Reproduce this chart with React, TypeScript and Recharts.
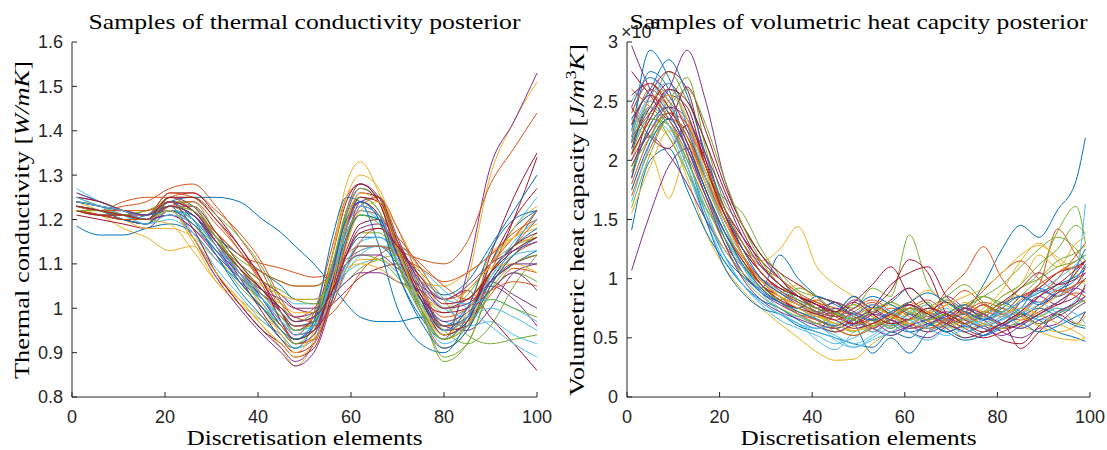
import React from 'react';
import { LineChart, Line, XAxis, YAxis } from 'recharts';

// MATLAB default colour order
const COLORS = ['#0072BD', '#D95319', '#EDB120', '#7E2F8E', '#77AC30', '#4DBEEE', '#A2142F'];

// ---------- Left panel: thermal conductivity samples [W/mK] ----------
const kElements = [1, 6, 11, 16, 21, 26, 31, 36, 41, 45, 48, 52, 56, 59, 62, 66, 70, 75, 80, 85, 90, 95, 100];
const kSamples: number[][] = [
  [1.24, 1.23, 1.21, 1.20, 1.23, 1.21, 1.14, 1.08, 1.02, 0.96, 0.93, 0.97, 1.10, 1.20, 1.24, 1.20, 1.08, 0.98, 0.93, 0.98, 1.10, 1.18, 1.22],
  [1.23, 1.22, 1.23, 1.24, 1.27, 1.28, 1.23, 1.16, 1.08, 0.99, 0.94, 0.99, 1.14, 1.25, 1.28, 1.24, 1.12, 0.99, 0.91, 0.95, 1.06, 1.12, 1.15],
  [1.22, 1.21, 1.18, 1.16, 1.13, 1.14, 1.07, 1.02, 0.96, 0.91, 0.87, 0.93, 1.12, 1.28, 1.33, 1.26, 1.14, 1.02, 0.95, 1.06, 1.30, 1.42, 1.51],
  [1.24, 1.23, 1.21, 1.20, 1.22, 1.16, 1.08, 1.01, 0.95, 0.91, 0.88, 0.92, 1.08, 1.22, 1.28, 1.25, 1.13, 1.00, 0.93, 1.08, 1.32, 1.42, 1.53],
  [1.25, 1.23, 1.22, 1.21, 1.24, 1.24, 1.17, 1.10, 1.04, 0.99, 0.95, 0.97, 1.05, 1.15, 1.21, 1.20, 1.12, 1.00, 0.89, 0.92, 1.05, 1.12, 1.17],
  [1.26, 1.24, 1.22, 1.20, 1.21, 1.19, 1.14, 1.09, 1.05, 1.03, 1.01, 1.01, 1.04, 1.08, 1.10, 1.11, 1.08, 1.02, 0.97, 0.96, 0.97, 0.94, 0.92],
  [1.21, 1.20, 1.19, 1.18, 1.22, 1.21, 1.15, 1.10, 1.06, 1.03, 1.00, 0.99, 1.01, 1.04, 1.07, 1.09, 1.10, 1.06, 1.02, 1.04, 0.98, 0.92, 0.86],
  [1.22, 1.21, 1.20, 1.21, 1.24, 1.25, 1.25, 1.24, 1.20, 1.17, 1.14, 1.10, 1.05, 1.01, 0.98, 0.97, 0.97, 0.98, 0.96, 1.00, 1.06, 1.10, 1.13],
  [1.23, 1.22, 1.24, 1.25, 1.25, 1.22, 1.17, 1.12, 1.10, 1.09, 1.08, 1.07, 1.08, 1.11, 1.13, 1.14, 1.13, 1.11, 1.10, 1.15, 1.28, 1.36, 1.44],
  [1.24, 1.22, 1.20, 1.19, 1.22, 1.15, 1.06, 1.01, 0.97, 0.94, 0.91, 0.94, 1.08, 1.20, 1.25, 1.22, 1.10, 1.00, 0.94, 1.00, 1.12, 1.16, 1.18],
  [1.26, 1.24, 1.22, 1.21, 1.23, 1.16, 1.07, 1.00, 0.94, 0.90, 0.87, 0.90, 1.02, 1.15, 1.24, 1.25, 1.16, 1.04, 0.96, 0.98, 1.05, 1.02, 0.96],
  [1.23, 1.22, 1.21, 1.22, 1.23, 1.20, 1.15, 1.10, 1.06, 1.04, 1.02, 1.01, 1.03, 1.06, 1.09, 1.11, 1.12, 1.08, 1.02, 0.94, 0.92, 0.93, 0.94],
  [1.23, 1.22, 1.21, 1.19, 1.22, 1.21, 1.14, 1.07, 1.01, 0.96, 0.93, 0.96, 1.08, 1.19, 1.25, 1.22, 1.10, 0.99, 0.92, 0.96, 1.10, 1.18, 1.25],
  [1.22, 1.21, 1.20, 1.19, 1.23, 1.23, 1.17, 1.10, 1.04, 0.99, 0.96, 0.97, 1.04, 1.13, 1.19, 1.20, 1.15, 1.05, 0.95, 0.96, 1.08, 1.20, 1.34],
  [1.185, 1.165, 1.165, 1.18, 1.19, 1.17, 1.11, 1.06, 1.02, 0.98, 0.96, 0.97, 1.03, 1.10, 1.14, 1.14, 1.10, 1.03, 0.96, 0.98, 1.06, 1.14, 1.22],
  [1.22, 1.21, 1.21, 1.20, 1.25, 1.26, 1.22, 1.17, 1.10, 1.02, 0.98, 1.00, 1.08, 1.17, 1.22, 1.21, 1.15, 1.04, 0.98, 1.00, 1.08, 1.14, 1.20],
  [1.23, 1.22, 1.20, 1.18, 1.18, 1.16, 1.11, 1.07, 1.03, 1.01, 0.99, 0.99, 1.03, 1.08, 1.11, 1.11, 1.09, 1.06, 1.05, 1.08, 1.12, 1.16, 1.22],
  [1.25, 1.24, 1.22, 1.21, 1.25, 1.23, 1.16, 1.09, 1.02, 0.96, 0.93, 0.95, 1.08, 1.21, 1.27, 1.24, 1.13, 1.02, 0.96, 0.95, 1.00, 1.08, 1.10],
  [1.24, 1.23, 1.21, 1.20, 1.22, 1.19, 1.12, 1.05, 1.00, 0.96, 0.93, 0.95, 1.03, 1.12, 1.17, 1.17, 1.12, 1.04, 0.99, 1.03, 1.10, 1.14, 1.16],
  [1.22, 1.21, 1.20, 1.19, 1.20, 1.17, 1.11, 1.06, 1.00, 0.97, 0.95, 0.96, 1.01, 1.08, 1.12, 1.14, 1.14, 1.09, 1.04, 1.00, 0.96, 0.92, 0.89],
  [1.23, 1.22, 1.21, 1.21, 1.26, 1.26, 1.21, 1.14, 1.06, 0.99, 0.95, 0.98, 1.12, 1.24, 1.28, 1.24, 1.12, 1.02, 0.94, 0.97, 1.12, 1.25, 1.35],
  [1.24, 1.23, 1.22, 1.21, 1.23, 1.21, 1.16, 1.12, 1.08, 1.05, 1.02, 1.02, 1.06, 1.12, 1.16, 1.16, 1.13, 1.07, 1.03, 1.06, 1.14, 1.22, 1.30],
  [1.22, 1.21, 1.20, 1.19, 1.23, 1.24, 1.19, 1.13, 1.06, 1.01, 0.98, 0.97, 0.99, 1.03, 1.08, 1.12, 1.14, 1.10, 1.05, 1.02, 1.04, 1.06, 1.05],
  [1.24, 1.23, 1.21, 1.20, 1.19, 1.13, 1.06, 1.02, 0.98, 0.95, 0.92, 0.93, 1.02, 1.14, 1.22, 1.24, 1.18, 1.08, 1.00, 1.02, 1.08, 1.14, 1.16],
  [1.23, 1.22, 1.21, 1.20, 1.21, 1.18, 1.13, 1.08, 1.04, 1.02, 1.00, 1.00, 1.03, 1.06, 1.08, 1.08, 1.06, 1.04, 1.00, 1.02, 1.06, 1.03, 1.00],
  [1.22, 1.21, 1.21, 1.22, 1.24, 1.22, 1.16, 1.11, 1.08, 1.06, 1.05, 1.05, 1.07, 1.10, 1.12, 1.11, 1.07, 1.01, 0.95, 0.92, 0.96, 1.05, 1.12],
  [1.27, 1.24, 1.22, 1.20, 1.22, 1.17, 1.09, 1.03, 0.97, 0.94, 0.91, 0.93, 1.04, 1.16, 1.22, 1.20, 1.10, 1.00, 0.94, 0.97, 1.07, 1.12, 1.13],
  [1.22, 1.21, 1.20, 1.19, 1.24, 1.22, 1.15, 1.07, 0.99, 0.93, 0.90, 0.92, 1.05, 1.18, 1.24, 1.21, 1.10, 1.02, 0.99, 1.00, 1.06, 1.10, 1.12],
  [1.23, 1.22, 1.20, 1.19, 1.24, 1.20, 1.12, 1.04, 0.98, 0.93, 0.91, 0.97, 1.16, 1.25, 1.24, 1.14, 1.00, 0.92, 0.90, 0.97, 1.08, 1.14, 1.18],
  [1.24, 1.23, 1.22, 1.21, 1.26, 1.25, 1.20, 1.13, 1.05, 0.97, 0.92, 0.93, 1.02, 1.15, 1.23, 1.25, 1.18, 1.06, 0.96, 0.97, 1.03, 1.09, 1.08],
  [1.22, 1.22, 1.21, 1.20, 1.23, 1.22, 1.16, 1.08, 1.00, 0.94, 0.90, 0.95, 1.12, 1.25, 1.30, 1.27, 1.15, 1.01, 0.93, 0.96, 1.08, 1.18, 1.23],
  [1.24, 1.23, 1.22, 1.20, 1.21, 1.18, 1.12, 1.07, 1.03, 1.00, 0.98, 0.99, 1.04, 1.10, 1.12, 1.12, 1.09, 1.05, 1.02, 1.05, 1.10, 1.13, 1.15],
  [1.23, 1.22, 1.22, 1.21, 1.25, 1.25, 1.21, 1.16, 1.09, 1.01, 0.97, 0.99, 1.10, 1.21, 1.25, 1.22, 1.10, 0.99, 0.93, 0.97, 1.04, 1.08, 1.06],
  [1.24, 1.23, 1.21, 1.19, 1.21, 1.19, 1.13, 1.07, 1.02, 0.98, 0.95, 0.96, 1.02, 1.10, 1.15, 1.16, 1.12, 1.05, 1.00, 0.98, 1.00, 0.98, 0.95],
  [1.25, 1.24, 1.22, 1.20, 1.24, 1.18, 1.08, 1.01, 0.95, 0.92, 0.89, 0.91, 1.04, 1.18, 1.25, 1.24, 1.14, 1.02, 0.94, 0.97, 1.10, 1.20, 1.27],
  [1.23, 1.22, 1.21, 1.20, 1.22, 1.20, 1.14, 1.09, 1.04, 1.00, 0.97, 0.98, 1.06, 1.16, 1.21, 1.20, 1.12, 1.02, 0.95, 1.00, 1.13, 1.20, 1.22],
  [1.22, 1.21, 1.20, 1.20, 1.24, 1.22, 1.16, 1.09, 1.03, 0.99, 0.96, 0.96, 1.01, 1.09, 1.15, 1.18, 1.16, 1.09, 1.02, 1.04, 1.10, 1.16, 1.22],
  [1.24, 1.23, 1.22, 1.21, 1.22, 1.19, 1.14, 1.09, 1.05, 1.03, 1.02, 1.02, 1.05, 1.09, 1.10, 1.09, 1.06, 1.03, 1.00, 1.04, 1.09, 1.10, 1.08],
  [1.23, 1.22, 1.21, 1.20, 1.23, 1.21, 1.14, 1.06, 1.00, 0.95, 0.92, 0.94, 1.06, 1.18, 1.23, 1.21, 1.12, 1.03, 0.97, 0.99, 1.04, 1.08, 1.04],
  [1.24, 1.23, 1.21, 1.20, 1.24, 1.23, 1.16, 1.08, 1.01, 0.95, 0.92, 0.96, 1.10, 1.22, 1.27, 1.25, 1.14, 1.00, 0.88, 0.92, 1.04, 1.10, 1.12],
  [1.25, 1.23, 1.21, 1.20, 1.22, 1.20, 1.14, 1.08, 1.03, 0.99, 0.97, 0.98, 1.03, 1.09, 1.13, 1.14, 1.11, 1.06, 1.02, 1.01, 1.02, 1.00, 0.97],
  [1.22, 1.21, 1.21, 1.20, 1.25, 1.25, 1.20, 1.14, 1.06, 0.97, 0.93, 0.95, 1.06, 1.19, 1.26, 1.25, 1.15, 1.03, 0.95, 0.98, 1.08, 1.14, 1.17],
  [1.24, 1.23, 1.22, 1.21, 1.22, 1.19, 1.13, 1.06, 1.00, 0.95, 0.93, 0.96, 1.09, 1.20, 1.24, 1.20, 1.08, 0.97, 0.91, 0.95, 1.05, 1.12, 1.16],
  [1.23, 1.22, 1.22, 1.22, 1.24, 1.22, 1.17, 1.12, 1.08, 1.06, 1.05, 1.05, 1.08, 1.12, 1.14, 1.14, 1.12, 1.09, 1.06, 1.08, 1.12, 1.17, 1.20],
  [1.23, 1.22, 1.21, 1.20, 1.22, 1.16, 1.08, 1.02, 0.96, 0.92, 0.89, 0.92, 1.05, 1.19, 1.26, 1.24, 1.13, 1.01, 0.94, 0.99, 1.10, 1.16, 1.19],
  [1.24, 1.23, 1.22, 1.21, 1.24, 1.22, 1.15, 1.08, 1.02, 0.97, 0.94, 0.95, 1.02, 1.12, 1.18, 1.19, 1.14, 1.06, 1.00, 1.01, 1.06, 1.10, 1.10],
  [1.22, 1.22, 1.21, 1.20, 1.23, 1.22, 1.16, 1.09, 1.03, 0.98, 0.95, 0.97, 1.07, 1.17, 1.21, 1.19, 1.10, 1.00, 0.93, 0.96, 1.02, 1.00, 0.98],
  [1.24, 1.23, 1.22, 1.20, 1.23, 1.21, 1.15, 1.08, 1.02, 0.97, 0.94, 0.96, 1.07, 1.18, 1.23, 1.21, 1.11, 1.01, 0.95, 0.98, 1.07, 1.15, 1.20],
  [1.23, 1.22, 1.21, 1.20, 1.23, 1.21, 1.15, 1.09, 1.04, 1.00, 0.97, 0.98, 1.04, 1.12, 1.17, 1.18, 1.14, 1.07, 1.01, 1.02, 1.08, 1.13, 1.16],
];

// ---------- Right panel: volumetric heat capacity samples [x10^6 J/m^3K] ----------
const cElements = [1, 5, 9, 13, 17, 21, 25, 29, 33, 37, 41, 45, 49, 53, 57, 61, 65, 69, 73, 77, 81, 85, 89, 93, 97, 99];
const cSamples: number[][] = [
  [2.15, 2.93, 2.70, 2.30, 1.85, 1.45, 1.15, 0.95, 0.85, 0.78, 0.72, 0.80, 0.65, 0.60, 0.72, 0.78, 0.65, 0.82, 0.75, 0.95, 1.25, 1.45, 1.35, 1.58, 1.83, 2.19],
  [2.20, 2.60, 2.45, 2.20, 1.80, 1.45, 1.15, 1.00, 0.92, 0.85, 0.80, 0.72, 0.85, 0.70, 0.62, 0.78, 0.70, 0.90, 1.05, 1.27, 1.00, 0.85, 0.95, 1.42, 1.20, 1.10],
  [1.75, 2.05, 1.68, 2.05, 1.85, 1.55, 1.30, 1.15, 1.25, 1.44, 1.10, 0.95, 0.85, 0.75, 0.80, 0.70, 0.78, 0.66, 0.80, 0.72, 0.85, 0.95, 1.20, 1.10, 1.30, 1.35],
  [2.97, 2.60, 2.35, 2.10, 1.70, 1.35, 1.05, 0.90, 0.80, 0.75, 0.68, 0.72, 0.60, 0.66, 0.58, 0.70, 0.64, 0.55, 0.62, 0.70, 0.60, 0.72, 0.85, 0.78, 0.95, 1.05],
  [2.30, 2.45, 2.75, 2.50, 2.15, 1.65, 1.45, 1.20, 1.05, 0.90, 0.85, 0.80, 0.75, 0.92, 0.85, 1.37, 0.95, 0.80, 0.72, 0.85, 0.78, 0.92, 1.05, 1.40, 1.61, 1.30],
  [2.10, 2.35, 2.25, 1.90, 1.50, 1.15, 0.95, 0.80, 0.70, 0.62, 0.48, 0.40, 0.55, 0.62, 0.70, 0.58, 0.66, 0.75, 0.60, 0.68, 0.75, 0.70, 0.85, 0.92, 1.05, 1.63],
  [1.85, 2.40, 2.55, 2.45, 1.95, 1.55, 1.20, 0.95, 0.85, 0.70, 0.62, 0.58, 0.65, 0.75, 0.90, 1.16, 1.05, 0.70, 0.58, 0.52, 0.62, 0.41, 0.55, 0.72, 0.80, 0.95],
  [2.25, 2.75, 2.60, 2.05, 1.55, 1.20, 1.02, 0.92, 1.20, 1.00, 0.85, 0.70, 0.62, 0.37, 0.50, 0.37, 0.55, 0.62, 0.75, 0.68, 0.80, 0.72, 0.65, 0.55, 0.50, 0.47],
  [2.60, 2.45, 2.30, 2.00, 1.65, 1.30, 1.10, 0.95, 0.80, 0.72, 0.65, 0.60, 0.70, 0.55, 0.65, 0.75, 0.82, 0.70, 0.65, 0.72, 0.68, 0.80, 0.92, 1.05, 1.15, 1.20],
  [2.00, 2.30, 2.20, 1.85, 1.40, 1.10, 0.90, 0.75, 0.62, 0.50, 0.38, 0.31, 0.32, 0.45, 0.55, 0.62, 0.55, 0.65, 0.58, 0.62, 0.70, 0.60, 0.55, 0.50, 0.48, 0.50],
  [1.07, 1.55, 1.95, 2.10, 1.85, 1.55, 1.30, 1.05, 0.92, 0.85, 0.78, 0.70, 0.82, 0.75, 0.68, 0.78, 0.70, 0.85, 0.75, 0.68, 0.62, 0.80, 0.90, 0.85, 0.92, 0.88],
  [1.60, 2.05, 2.35, 2.20, 1.90, 1.60, 1.35, 1.15, 1.00, 0.88, 0.70, 0.62, 0.55, 0.65, 0.58, 0.72, 0.80, 0.62, 0.75, 0.85, 0.95, 1.10, 1.25, 1.35, 1.25, 1.15],
  [2.40, 2.65, 2.40, 2.10, 1.70, 1.35, 1.10, 0.90, 0.75, 0.68, 0.72, 0.58, 0.62, 0.55, 0.68, 0.75, 0.62, 0.70, 0.66, 0.58, 0.62, 0.70, 0.78, 0.85, 0.95, 1.00],
  [2.10, 2.55, 2.75, 2.60, 2.00, 1.55, 1.25, 1.05, 0.90, 0.82, 0.75, 0.68, 0.80, 0.95, 1.10, 0.85, 0.70, 0.65, 0.55, 0.60, 0.48, 0.45, 0.60, 0.70, 0.62, 0.72],
  [1.41, 2.00, 2.10, 1.75, 1.40, 1.15, 0.95, 0.82, 0.75, 0.65, 0.58, 0.70, 0.85, 0.75, 0.80, 0.92, 0.78, 0.65, 0.70, 0.60, 0.66, 0.75, 0.92, 0.85, 1.10, 1.25],
  [1.95, 2.25, 2.40, 2.30, 1.95, 1.55, 1.20, 0.98, 0.85, 0.78, 0.70, 0.65, 0.72, 0.80, 0.68, 0.62, 0.70, 0.78, 0.90, 0.78, 0.70, 0.65, 0.72, 0.80, 0.88, 0.85],
  [2.25, 2.50, 2.60, 2.35, 1.80, 1.50, 1.20, 1.00, 0.88, 0.95, 0.80, 0.70, 0.78, 0.68, 0.60, 0.72, 0.65, 0.58, 0.66, 0.75, 0.90, 1.15, 1.30, 1.15, 1.00, 0.95],
  [2.00, 2.20, 2.05, 1.80, 1.50, 1.25, 1.05, 0.88, 0.78, 0.70, 0.62, 0.58, 0.66, 0.72, 0.65, 0.60, 0.55, 0.62, 0.75, 0.65, 0.55, 0.50, 0.58, 0.62, 0.75, 0.80],
  [2.35, 2.20, 2.40, 2.20, 1.85, 1.68, 1.55, 1.25, 1.02, 0.80, 0.72, 0.55, 0.62, 0.75, 0.70, 0.60, 0.72, 0.62, 0.50, 0.55, 0.62, 0.70, 0.68, 0.75, 0.62, 0.60],
  [2.15, 2.50, 2.35, 2.00, 1.60, 1.20, 0.95, 0.78, 0.65, 0.58, 0.52, 0.45, 0.50, 0.58, 0.52, 0.60, 0.70, 0.62, 0.55, 0.65, 0.72, 0.62, 0.70, 0.80, 0.92, 1.00],
  [2.45, 2.20, 2.10, 2.30, 2.00, 1.60, 1.35, 1.15, 1.00, 0.85, 0.75, 0.70, 0.62, 0.75, 0.95, 1.05, 1.10, 0.85, 0.70, 0.62, 0.58, 0.62, 0.75, 0.88, 1.05, 1.15],
  [2.05, 2.45, 2.30, 1.95, 1.50, 1.10, 0.88, 0.75, 0.70, 0.60, 0.55, 0.50, 0.45, 0.42, 0.55, 0.50, 0.62, 0.55, 0.60, 0.52, 0.58, 0.62, 0.55, 0.60, 0.68, 0.72],
  [1.70, 2.10, 2.35, 2.25, 1.95, 1.50, 1.25, 1.10, 1.00, 0.88, 0.80, 0.75, 0.68, 0.62, 0.70, 0.80, 0.72, 0.66, 0.78, 0.70, 0.62, 0.70, 0.85, 1.00, 1.20, 1.30],
  [2.35, 2.55, 2.45, 2.20, 1.85, 1.45, 1.15, 0.92, 0.80, 0.72, 0.68, 0.62, 0.56, 0.62, 0.68, 0.58, 0.64, 0.70, 0.62, 0.68, 0.75, 0.68, 0.60, 0.55, 0.60, 0.68],
  [2.20, 2.40, 2.60, 2.93, 2.50, 1.85, 1.45, 1.20, 1.00, 0.85, 0.78, 0.72, 0.65, 0.58, 0.65, 0.55, 0.50, 0.60, 0.72, 0.65, 0.78, 0.85, 0.80, 0.88, 0.95, 1.10],
  [1.90, 2.30, 2.50, 2.70, 2.10, 1.55, 1.30, 1.10, 0.95, 0.85, 0.75, 0.58, 0.52, 0.60, 0.65, 0.75, 0.60, 0.70, 0.78, 0.85, 0.80, 0.92, 1.00, 1.10, 1.15, 1.20],
  [1.65, 2.15, 2.60, 2.40, 1.85, 1.45, 1.20, 1.00, 0.90, 0.82, 0.65, 0.48, 0.42, 0.50, 0.60, 0.70, 0.78, 0.65, 0.72, 0.62, 0.70, 0.58, 0.68, 0.75, 0.70, 0.62],
  [2.75, 2.55, 2.35, 2.62, 2.25, 1.80, 1.45, 1.20, 1.05, 0.95, 0.85, 0.80, 0.70, 0.78, 0.70, 0.65, 0.72, 0.80, 0.70, 0.78, 0.72, 0.85, 0.92, 1.05, 1.10, 1.15],
  [1.85, 2.30, 2.45, 2.15, 1.75, 1.35, 1.05, 0.88, 0.80, 0.72, 0.66, 0.60, 0.68, 0.75, 0.62, 0.55, 0.60, 0.70, 0.78, 0.65, 0.72, 0.80, 0.88, 0.95, 1.02, 1.08],
  [2.30, 2.55, 2.35, 2.05, 1.70, 1.40, 1.18, 0.98, 0.85, 0.75, 0.82, 0.70, 0.62, 0.66, 0.75, 0.68, 0.58, 0.64, 0.72, 0.80, 0.75, 0.68, 0.78, 0.90, 0.85, 0.80],
  [1.55, 1.95, 2.25, 2.15, 1.80, 1.45, 1.15, 0.95, 0.82, 0.70, 0.62, 0.55, 0.60, 0.70, 0.78, 0.65, 0.72, 0.82, 0.70, 0.62, 0.58, 0.65, 0.75, 0.85, 0.95, 0.98],
  [2.45, 2.70, 2.55, 2.25, 1.85, 1.50, 1.20, 1.00, 0.88, 0.78, 0.70, 0.75, 0.68, 0.58, 0.52, 0.60, 0.68, 0.58, 0.50, 0.55, 0.62, 0.70, 0.62, 0.68, 0.78, 0.85],
  [2.05, 2.35, 2.30, 2.00, 1.65, 1.30, 1.02, 0.85, 0.75, 0.68, 0.62, 0.70, 0.78, 0.68, 0.60, 0.65, 0.75, 0.85, 0.95, 0.80, 0.72, 0.85, 1.00, 1.15, 1.22, 1.28],
  [2.50, 2.70, 2.50, 2.15, 1.75, 1.40, 1.12, 0.92, 0.80, 0.70, 0.60, 0.52, 0.45, 0.52, 0.62, 0.55, 0.48, 0.58, 0.66, 0.60, 0.65, 0.72, 0.65, 0.70, 0.82, 0.90],
  [2.15, 2.45, 2.65, 2.40, 1.95, 1.55, 1.25, 1.05, 0.92, 0.85, 0.78, 0.68, 0.62, 0.70, 0.82, 0.92, 0.78, 0.68, 0.62, 0.70, 0.80, 0.92, 1.05, 0.95, 1.00, 1.05],
  [2.35, 2.60, 2.85, 2.55, 2.05, 1.60, 1.25, 1.00, 0.88, 0.80, 0.72, 0.68, 0.75, 0.85, 0.78, 0.70, 0.62, 0.55, 0.48, 0.52, 0.60, 0.68, 0.75, 0.68, 0.60, 0.58],
  [1.80, 2.20, 2.40, 2.20, 1.85, 1.50, 1.20, 0.95, 0.80, 0.70, 0.65, 0.58, 0.52, 0.58, 0.66, 0.75, 0.70, 0.62, 0.68, 0.78, 0.70, 0.82, 0.95, 1.05, 1.10, 1.08],
  [2.20, 2.45, 2.30, 1.95, 1.55, 1.25, 1.05, 0.92, 0.85, 0.78, 0.70, 0.62, 0.68, 0.75, 0.70, 0.80, 0.90, 0.78, 0.66, 0.60, 0.68, 0.75, 0.70, 0.62, 0.55, 0.50],
  [1.95, 2.25, 2.45, 2.35, 2.05, 1.70, 1.35, 1.10, 0.95, 0.85, 0.75, 0.80, 0.72, 0.65, 0.55, 0.60, 0.66, 0.72, 0.65, 0.58, 0.52, 0.60, 0.70, 0.80, 0.92, 1.00],
  [2.15, 2.40, 2.20, 1.90, 1.60, 1.35, 1.12, 0.95, 0.82, 0.92, 0.85, 0.72, 0.65, 0.60, 0.68, 0.75, 0.68, 0.60, 0.66, 0.72, 0.85, 0.95, 1.12, 1.25, 1.45, 1.38],
  [2.25, 2.55, 2.65, 2.30, 1.85, 1.45, 1.10, 0.88, 0.72, 0.62, 0.55, 0.50, 0.42, 0.48, 0.55, 0.62, 0.70, 0.62, 0.55, 0.60, 0.68, 0.75, 0.80, 0.72, 0.78, 0.85],
  [2.55, 2.65, 2.45, 2.15, 1.75, 1.40, 1.15, 0.95, 0.82, 0.75, 0.70, 0.65, 0.58, 0.62, 0.70, 0.78, 0.70, 0.62, 0.55, 0.50, 0.55, 0.62, 0.70, 0.78, 0.85, 0.92],
  [1.75, 2.15, 2.35, 2.10, 1.75, 1.40, 1.12, 0.92, 0.80, 0.75, 0.85, 0.78, 0.70, 0.65, 0.72, 0.80, 0.88, 0.80, 0.72, 0.66, 0.75, 0.85, 0.78, 0.90, 1.00, 1.12],
  [2.40, 2.65, 2.50, 2.30, 1.95, 1.60, 1.30, 1.05, 0.90, 0.80, 0.72, 0.68, 0.75, 0.82, 0.72, 0.62, 0.58, 0.66, 0.75, 0.90, 1.05, 1.15, 1.00, 0.90, 0.95, 1.00],
  [2.05, 2.35, 2.55, 2.35, 1.90, 1.50, 1.20, 0.98, 0.85, 0.75, 0.68, 0.62, 0.56, 0.60, 0.68, 0.62, 0.70, 0.78, 0.85, 0.92, 1.05, 1.20, 1.28, 1.18, 1.05, 0.98],
  [2.30, 2.55, 2.40, 2.10, 1.70, 1.30, 1.00, 0.82, 0.72, 0.66, 0.60, 0.55, 0.62, 0.70, 0.65, 0.58, 0.62, 0.68, 0.75, 0.70, 0.62, 0.58, 0.65, 0.72, 0.80, 0.85],
  [1.95, 2.20, 2.45, 2.60, 2.30, 1.85, 1.45, 1.15, 0.95, 0.82, 0.75, 0.70, 0.66, 0.72, 0.80, 0.72, 0.65, 0.70, 0.62, 0.70, 0.78, 0.70, 0.62, 0.70, 0.78, 0.82],
  [2.20, 2.45, 2.30, 1.95, 1.55, 1.20, 0.95, 0.80, 0.70, 0.62, 0.58, 0.62, 0.70, 0.78, 0.72, 0.65, 0.58, 0.52, 0.58, 0.66, 0.72, 0.80, 0.90, 1.00, 1.12, 1.20],
  [2.05, 2.35, 2.60, 2.50, 2.15, 1.75, 1.40, 1.12, 0.95, 0.85, 0.78, 0.72, 0.80, 0.70, 0.62, 0.66, 0.75, 0.70, 0.62, 0.55, 0.62, 0.72, 0.85, 0.95, 1.08, 1.15],
];

const xTicks = [0, 20, 40, 60, 80, 100];
const kTicks = [0.8, 0.9, 1, 1.1, 1.2, 1.3, 1.4, 1.5, 1.6];
const cTicks = [0, 0.5, 1, 1.5, 2, 2.5, 3];

const TICK_FONT = '"Liberation Sans", Arial, Helvetica, sans-serif';
const SERIF = '"Liberation Serif", "Times New Roman", serif';
const AXIS_COLOR = '#262626';

function buildRows(xs: number[], samples: number[][]) {
  return xs.map((x, i) => {
    const row: Record<string, number> = { x };
    samples.forEach((s, j) => {
      row['s' + j] = s[i];
    });
    return row;
  });
}

const kRows = buildRows(kElements, kSamples);
const cRows = buildRows(cElements, cSamples);

const XTick = (props: any) => {
  const { x, y, payload } = props;
  return (
    <g>
      <line x1={x} x2={x} y1={y} y2={y - 5} stroke={AXIS_COLOR} strokeWidth={1} />
      <text x={x} y={y + 26} textAnchor="middle" fontFamily={TICK_FONT} fontSize={18} fill={AXIS_COLOR}>
        {String(payload.value)}
      </text>
    </g>
  );
};

const YTick = (props: any) => {
  const { x, y, payload } = props;
  return (
    <g>
      <line x1={x} x2={x + 5} y1={y} y2={y} stroke={AXIS_COLOR} strokeWidth={1} />
      <text x={x - 9} y={y} dy="0.36em" textAnchor="end" fontFamily={TICK_FONT} fontSize={18} fill={AXIS_COLOR}>
        {String(Math.round(payload.value * 10) / 10)}
      </text>
    </g>
  );
};

function Panel(props: {
  rows: Record<string, number>[];
  count: number;
  width: number;
  yWidth: number;
  rightMargin: number;
  domain: [number, number];
  yTicks: number[];
  left: number;
}) {
  const { rows, count, width, yWidth, rightMargin, domain, yTicks, left } = props;
  const keys = Array.from({ length: count }, (_, j) => 's' + j);
  return (
    <div style={{ position: 'absolute', left, top: 0 }}>
      <LineChart width={width} height={450} data={rows} margin={{ top: 42, right: rightMargin, bottom: 0, left: 0 }}>
        <XAxis
          dataKey="x"
          type="number"
          domain={[0, 100]}
          ticks={xTicks}
          height={53}
          tickLine={false}
          tickSize={0}
          tickMargin={0}
          tick={<XTick />}
          axisLine={{ stroke: AXIS_COLOR, strokeWidth: 1 }}
          interval={0}
        />
        <YAxis
          type="number"
          domain={domain}
          ticks={yTicks}
          width={yWidth}
          tickLine={false}
          tickSize={0}
          tickMargin={0}
          tick={<YTick />}
          axisLine={{ stroke: AXIS_COLOR, strokeWidth: 1 }}
          interval={0}
          allowDataOverflow
        />
        {keys.map((k, j) => (
          <Line
            key={k}
            dataKey={k}
            type="monotone"
            stroke={COLORS[j % COLORS.length]}
            strokeWidth={1}
            dot={false}
            activeDot={false}
            isAnimationActive={false}
          />
        ))}
      </LineChart>
    </div>
  );
}

export default function App() {
  return (
    <div style={{ position: 'absolute', left: 0, top: 0, width: 1107, height: 450, background: '#fff', overflow: 'hidden' }}>
      <Panel rows={kRows} count={kSamples.length} width={560} yWidth={72} rightMargin={23} domain={[0.8, 1.6]} yTicks={kTicks} left={0} />
      <Panel rows={cRows} count={cSamples.length} width={547} yWidth={67} rightMargin={17} domain={[0, 3]} yTicks={cTicks} left={560} />
      <svg width={1107} height={450} style={{ position: 'absolute', left: 0, top: 0, pointerEvents: 'none' }}>
        {/* exponent marker of right y axis */}
        <text x={621} y={38} fontFamily={TICK_FONT} fontSize={18} fill={AXIS_COLOR}>
          ×10
          <tspan dy={-10} fontSize={13}>6</tspan>
        </text>
        {/* titles */}
        <text x={304.5} y={29} textAnchor="middle" fontFamily={SERIF} fontSize={21} fill="#000" textLength={432} lengthAdjust="spacingAndGlyphs">
          Samples of thermal conductivity posterior
        </text>
        <text x={858.5} y={29} textAnchor="middle" fontFamily={SERIF} fontSize={21} fill="#000" textLength={458} lengthAdjust="spacingAndGlyphs">
          Samples of volumetric heat capcity posterior
        </text>
        {/* x labels */}
        <text x={304.5} y={445} textAnchor="middle" fontFamily={SERIF} fontSize={21} fill="#000" textLength={236} lengthAdjust="spacingAndGlyphs">
          Discretisation elements
        </text>
        <text x={858.5} y={445} textAnchor="middle" fontFamily={SERIF} fontSize={21} fill="#000" textLength={236} lengthAdjust="spacingAndGlyphs">
          Discretisation elements
        </text>
        {/* y labels */}
        <text
          transform="translate(29,220) rotate(-90)"
          textAnchor="middle"
          fontFamily={SERIF}
          fontSize={21}
          fill="#000"
          textLength={318}
          lengthAdjust="spacingAndGlyphs"
        >
          Thermal conductivity [<tspan fontStyle="italic">W/mK</tspan>]
        </text>
        <text
          transform="translate(584,220) rotate(-90)"
          textAnchor="middle"
          fontFamily={SERIF}
          fontSize={21}
          fill="#000"
          textLength={352}
          lengthAdjust="spacingAndGlyphs"
        >
          Volumetric heat capacity [<tspan fontStyle="italic">J/m</tspan>
          <tspan dy={-8} fontSize={14}>3</tspan>
          <tspan dy={8} fontStyle="italic">K</tspan>]
        </text>
      </svg>
    </div>
  );
}
